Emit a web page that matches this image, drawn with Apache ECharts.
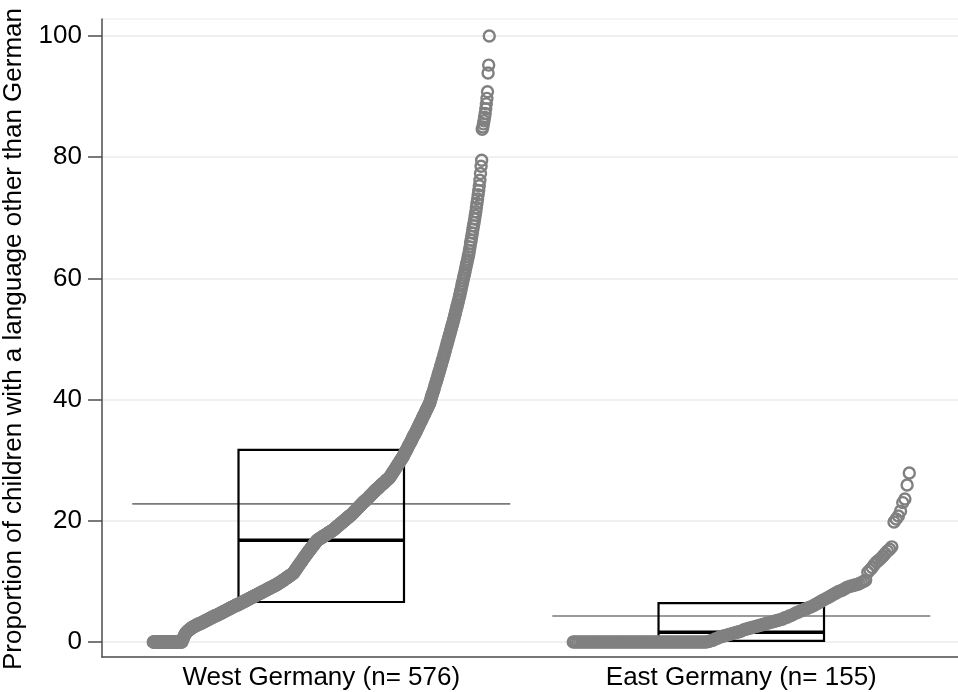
<!DOCTYPE html>
<html>
<head>
<meta charset="utf-8">
<script src="https://cdn.jsdelivr.net/npm/echarts@6/dist/echarts.min.js"></script>
<style>
html,body{margin:0;padding:0;background:#fff;}
#c{width:958px;height:692px;}
</style>
</head>
<body>
<div id="c"></div>
<script>
// Category labels and positions
const categories = ['West Germany (n= 576)', 'East Germany (n= 155)'];
const groupPos = [1, 2];
const yTicks = [0, 20, 40, 60, 80, 100];

// Sorted values, West Germany (576 schools)
const westValues = [
0,0,0,0,0,0,0,0,0,0,0,0,0,0,0,0,0,0,0,0,0,0,0,0,0,0,0,0,0,0,0,0,0,0,0,0,0,0,0,0,0,0,0,0,0,0,0,0,0,0,
0.3,0.5,0.8,1.0,1.2,1.4,1.5,1.6,1.7,1.8,1.9,2.0,2.0,2.1,2.2,2.3,2.3,2.4,2.5,2.5,2.6,2.6,2.7,2.7,2.8,2.8,2.9,2.9,3.0,3.0,3.0,3.1,3.1,
3.2,3.2,3.3,3.3,3.4,3.4,3.5,3.5,3.6,3.6,3.7,3.7,3.8,3.8,3.9,3.9,4.0,4.0,4.1,4.1,4.2,4.2,4.3,4.3,4.4,4.4,4.4,4.5,4.5,
4.6,4.6,4.7,4.7,4.8,4.8,4.9,4.9,5.0,5.0,5.1,5.1,5.2,5.2,5.3,5.3,5.4,5.4,5.5,5.5,5.6,5.6,5.7,5.7,5.8,5.8,5.9,5.9,6.0,6.0,6.1,6.1,6.1,6.2,6.2,6.3,6.3,6.4,6.4,
6.5,6.5,6.6,6.6,6.7,6.7,6.8,6.8,6.9,6.9,7.0,7.0,7.1,7.1,7.2,7.2,7.3,7.3,7.4,7.4,7.5,7.5,7.6,7.6,7.7,7.7,7.8,7.8,7.9,7.9,8.0,8.0,8.1,8.1,
8.2,8.2,8.3,8.3,8.4,8.4,8.5,8.5,8.6,8.6,8.7,8.7,8.8,8.8,8.9,8.9,9.0,9.0,9.1,9.1,9.2,9.2,9.3,9.3,9.4,9.4,9.5,9.5,9.6,9.7,9.7,9.8,9.8,9.9,
10.0,10.0,10.1,10.2,10.2,10.3,10.4,10.4,10.5,10.6,10.6,10.7,10.8,10.8,10.9,11.0,11.0,11.1,11.2,11.2,11.3,11.4,
11.5,11.7,11.8,12.0,12.1,12.2,12.4,12.5,12.7,12.8,12.9,13.1,13.2,13.3,13.5,13.6,13.8,13.9,14.0,14.2,14.3,14.4,14.6,14.7,
14.8,15.0,15.1,15.2,15.3,15.5,15.6,15.7,15.8,16.0,16.1,16.2,16.3,16.5,16.6,16.7,16.8,
16.9,16.9,17.0,17.1,17.1,17.2,17.2,17.3,17.4,17.4,17.5,17.6,17.6,17.7,17.7,17.8,17.9,17.9,18.0,18.1,18.1,18.2,18.2,18.3,18.4,18.4,18.5,
18.6,18.7,18.7,18.8,18.9,19.0,19.1,19.2,19.2,19.3,19.4,19.5,19.6,19.6,19.7,19.8,19.9,20.0,20.0,20.1,20.2,20.3,20.4,20.5,20.5,20.6,20.7,20.8,20.9,20.9,21.0,21.1,21.2,21.3,
21.4,21.5,21.6,21.7,21.8,21.9,22.0,22.1,22.2,22.3,22.4,22.5,22.6,22.7,22.8,22.9,23.0,23.1,23.2,23.3,23.3,23.4,23.5,23.6,23.7,23.8,23.9,24.0,24.1,24.2,24.3,24.4,24.5,24.6,
24.7,24.8,24.9,25.0,25.1,25.2,25.3,25.3,25.4,25.5,25.6,25.7,25.8,25.9,26.0,26.1,26.1,26.2,26.3,26.4,26.5,26.6,26.7,26.8,26.8,26.9,27.0,27.1,27.2,
27.4,27.5,27.7,27.8,28.0,28.1,28.3,28.4,28.6,28.7,28.9,29.0,29.2,29.3,29.5,29.6,29.8,29.9,30.1,30.2,30.4,30.5,
30.7,30.9,31.1,31.3,31.4,31.6,31.8,32.0,32.2,32.4,32.6,32.7,32.9,33.1,33.3,33.5,33.7,33.9,34.1,34.2,34.4,34.6,34.8,35.0,
35.2,35.4,35.6,35.8,36.0,36.2,36.4,36.6,36.8,37.0,37.2,37.4,37.6,37.8,38.0,38.2,38.4,38.6,38.8,39.0,39.2,39.4,
39.7,40.0,40.4,40.7,41.0,41.3,41.6,41.9,42.3,42.6,42.9,43.2,
43.5,43.9,44.2,44.5,44.8,45.2,45.5,45.8,46.2,46.5,
46.8,47.2,47.5,47.9,48.2,48.6,48.9,49.3,49.6,50.0,
50.3,50.7,51.0,51.4,51.7,52.1,52.4,52.8,53.1,53.5,
53.9,54.3,54.7,55.1,55.4,55.8,56.2,56.6,57.0,
57.4,57.9,58.3,58.8,59.2,59.6,60.1,60.5,
60.9,61.4,61.8,62.3,62.7,63.1,63.6,64.0,
64.6,65.2,65.8,66.3,66.9,67.5,
68.1,68.7,69.2,69.8,70.4,71.0,
71.7,72.4,73.1,73.8,74.5,
75.3,76.2,77.3,78.5,79.5,
84.6,85.0,85.5,86.0,86.6,87.2,88.0,88.8,89.7,90.8,
93.9,95.2,100
];

// Sorted values, East Germany (155 schools)
const eastValues = [
0,0,0,0,0,0,0,0,0,0,0,0,0,0,0,0,0,0,0,0,0,0,0,0,0,0,0,0,0,0,0,0,0,0,0,0,0,0,0,0,0,0,0,0,0,0,0,0,0,0,0,0,0,0,0,0,0,0,0,0,0,0,
0.1,0.2,0.3,0.5,0.6,0.8,
0.9,1.0,1.1,1.2,1.3,1.4,1.5,1.6,1.7,1.8,2.0,2.1,2.2,2.3,2.4,2.5,
2.6,2.7,2.8,2.9,3.0,3.1,3.2,3.3,3.4,3.5,3.6,3.7,3.8,4.0,4.1,
4.3,4.4,4.6,4.8,4.9,5.1,5.2,5.4,5.5,5.7,5.8,
6.0,6.2,6.4,6.6,6.8,7.0,7.2,7.4,
7.6,7.8,8.0,8.2,8.4,8.5,8.7,8.9,9.1,
9.2,9.3,9.4,9.5,9.6,9.8,10.0,10.2,
11.5,11.9,12.3,12.8,13.2,13.5,13.8,14.2,14.6,15.0,15.3,15.7,
19.8,20.3,20.8,21.6,23.0,23.6,25.9,27.9
];

// Summary statistics per group
const q1Values = [6.6, 0.2];
const medianValues = [16.8, 1.6];
const q3Values = [31.7, 6.4];
const meanValues = [22.8, 4.3];

const groups = [westValues, eastValues];
const SPREAD = 0.4, BOX_HALF = 0.197, MEAN_HALF = 0.45;

const scatterData = [];
groups.forEach((vals, g) => {
  const n = vals.length;
  vals.forEach((v, i) => {
    scatterData.push([groupPos[g] - SPREAD + 2 * SPREAD * i / (n - 1), v]);
  });
});

const boxData = groupPos.map((p, g) => [p, q1Values[g], medianValues[g], q3Values[g], meanValues[g]]);

const chart = echarts.init(document.getElementById('c'), null, {renderer: 'canvas'});
const axisColor = '#4d4d4d';
const font = 'Liberation Sans, Arial, Helvetica, sans-serif';

chart.setOption({
  animation: false,
  backgroundColor: '#ffffff',
  grid: [
    {left: 102, right: 0, top: 36, bottom: 50, outerBoundsMode: 'none', containLabel: false},
    {left: 102, right: 0, top: 19, bottom: 35, outerBoundsMode: 'none', containLabel: false}
  ],
  xAxis: [
    {
      gridIndex: 0, type: 'value', min: 0.478, max: 2.516,
      axisLine: {show: false}, axisTick: {show: false}, splitLine: {show: false},
      axisLabel: {
        customValues: groupPos,
        formatter: v => categories[Math.round(v) - 1] || '',
        fontSize: 26, color: '#000', fontFamily: font, margin: 23
      }
    },
    {
      gridIndex: 1, type: 'value', min: 0, max: 1,
      axisLine: {show: true, lineStyle: {color: axisColor, width: 1.5}},
      axisTick: {show: false}, axisLabel: {show: false}, splitLine: {show: false}
    }
  ],
  yAxis: [
    {
      gridIndex: 0, type: 'value', min: 0, max: 100, interval: 20,
      axisLine: {show: false},
      axisTick: {show: true, length: 14, lineStyle: {color: axisColor, width: 1.5}},
      axisLabel: {fontSize: 26, color: '#000', fontFamily: font, margin: 20},
      splitLine: {show: true, lineStyle: {color: '#ebebeb', width: 1.5}},
      name: 'Proportion of children with a language other than German',
      nameLocation: 'middle', nameGap: 75,
      nameTextStyle: {fontSize: 26, color: '#000', fontFamily: font}
    },
    {
      gridIndex: 1, type: 'value', min: 0, max: 1, interval: 1,
      axisLine: {show: true, lineStyle: {color: axisColor, width: 1.5}},
      axisTick: {show: false}, axisLabel: {show: false},
      splitLine: {show: true, lineStyle: {color: '#f0f0f0', width: 1.5}}
    }
  ],
  series: [
    {
      type: 'custom', xAxisIndex: 0, yAxisIndex: 0, z: 2,
      data: boxData,
      renderItem: function (params, api) {
        const p = api.value(0), q1 = api.value(1), md = api.value(2), q3 = api.value(3), mn = api.value(4);
        const tl = api.coord([p - BOX_HALF, q3]);
        const br = api.coord([p + BOX_HALF, q1]);
        const m1 = api.coord([p - BOX_HALF, md]);
        const m2 = api.coord([p + BOX_HALF, md]);
        const a1 = api.coord([p - MEAN_HALF, mn]);
        const a2 = api.coord([p + MEAN_HALF, mn]);
        return {
          type: 'group',
          children: [
            {type: 'line', shape: {x1: a1[0], y1: a1[1], x2: a2[0], y2: a2[1]},
             style: {stroke: '#7a7a7a', lineWidth: 1.6}},
            {type: 'rect', shape: {x: tl[0], y: tl[1], width: br[0] - tl[0], height: br[1] - tl[1]},
             style: {fill: 'none', stroke: '#000', lineWidth: 2.2}},
            {type: 'line', shape: {x1: m1[0], y1: m1[1], x2: m2[0], y2: m2[1]},
             style: {stroke: '#000', lineWidth: 3.6}}
          ]
        };
      }
    },
    {
      type: 'scatter', xAxisIndex: 0, yAxisIndex: 0, z: 5,
      data: scatterData,
      symbol: 'circle', symbolSize: 11,
      itemStyle: {color: 'rgba(255,255,255,0)', borderColor: '#808080', borderWidth: 2.4, opacity: 1}
    }
  ]
});
</script>
</body>
</html>
